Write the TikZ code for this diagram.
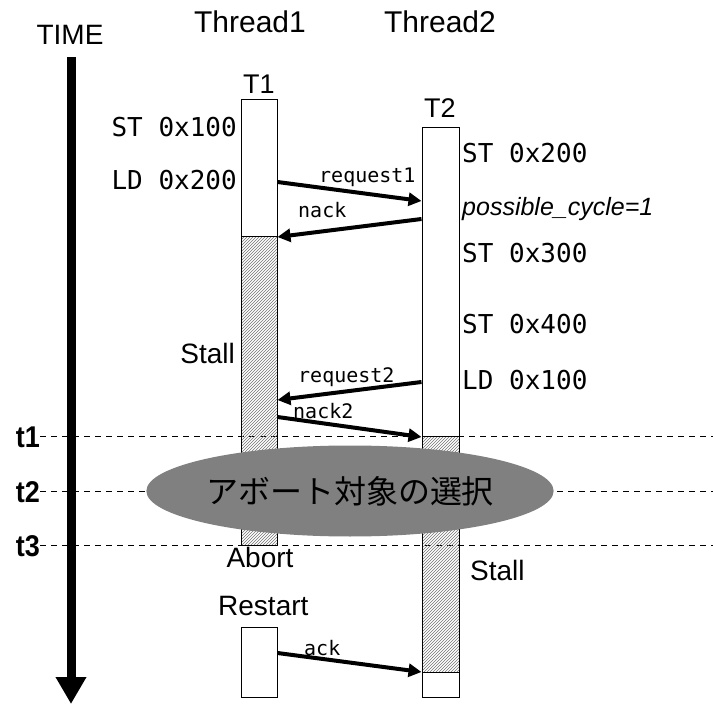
\documentclass[tikz,border=0pt]{standalone}
\usepackage{fontspec}
\setmainfont{Liberation Sans}
\setmonofont{DejaVu Sans Mono}
\newfontfamily\jpfont{Noto Sans CJK JP}
\usetikzlibrary{arrows.meta,patterns,shapes.geometric}
\newcommand{\fs}[1]{\fontsize{#1}{#1}\selectfont}
\tikzstyle{bar}      = [draw,line width=1pt,fill=white,inner sep=0pt,minimum width=36pt]
\tikzstyle{stallbar} = [draw,line width=1pt,inner sep=0pt,minimum width=36pt,pattern=north east lines,pattern color=black!55]
\tikzstyle{msg}      = [-{Triangle[length=13pt,width=13pt]},line width=4pt]
\tikzstyle{instr}    = [font=\ttfamily\fs{26},inner sep=0pt]
\tikzstyle{msglbl}   = [font=\ttfamily\fs{20},inner sep=0pt,anchor=base west]
\tikzstyle{lbl}      = [font=\fs{28},inner sep=0pt]
\tikzstyle{tick}     = [font=\bfseries\fs{30},inner sep=0pt,anchor=base east,xscale=0.9]
\tikzstyle{timeline} = [line width=1pt,dash pattern=on 6pt off 5pt]

\begin{document}
\begin{tikzpicture}[x=1pt,y=-1pt]
\useasboundingbox (0,0) rectangle (713,706);

% time axis
\node[lbl,font=\fs{28},anchor=base] (time) at (70,45) {TIME};
\coordinate (tend) at (71,704);
\draw[line width=9pt,-{Triangle[width=29pt,length=27pt]}] ([yshift=-12pt,xshift=1pt]time.south) -- (tend);

\node[tick] (t1) at (40,447) {t1};
\node[tick] (t2) at (40,502) {t2};
\node[tick] (t3) at (40,556) {t3};
\draw[timeline] (t1.east) -- ++(673,0);
\draw[timeline] (t2.east) -- ++(673,0);
\draw[timeline] (t3.east) -- ++(673,0);

% threads
\node[lbl,font=\fs{30},anchor=base] (th1) at (250,33) {Thread1};
\node[lbl,font=\fs{30},anchor=base] (th2) at (440,33) {Thread2};
\node[lbl,font=\fs{27},anchor=base] (n1) at (259,94) {T1};
\node[lbl,font=\fs{27},anchor=base] (n2) at (440,118) {T2};

\node[bar,minimum height=137pt]      (T1a) at (259,168.5) {};
\node[stallbar,minimum height=308pt] (T1b) at (259,391) {};
\node[bar,minimum height=70pt]       (T1c) at (259,662) {};

\node[bar,minimum width=37pt,minimum height=308pt]      (T2a) at (440.5,282) {};
\node[stallbar,minimum width=37pt,minimum height=236pt] (T2b) at (440.5,554) {};
\node[bar,minimum width=37pt,minimum height=25pt]       (T2c) at (440.5,684.5) {};

% instructions
\node[instr,anchor=base east] (i1) at (237,137) {ST 0x100};
\node[instr,anchor=base east] (i2) at (237,190) {LD 0x200};
\node[instr,anchor=base west] (i3) at (462,163) {ST 0x200};
\node[lbl,font=\itshape\fs{25},anchor=base west] (pc) at (462,215) {possible\_cycle=1};
\node[instr,anchor=base west] (i4) at (462,262) {ST 0x300};
\node[instr,anchor=base west] (i5) at (462,333) {ST 0x400};
\node[instr,anchor=base west] (i6) at (462,389) {LD 0x100};

% messages
\draw[msg] (T1a.east |- 0,182) -- (T2a.west |- 0,201);
\draw[msg] (T2a.west |- 0,219) -- (T1a.east |- 0,237);
\draw[msg] (T2a.west |- 0,382) -- (T1b.east |- 0,400);
\draw[msg] (T1b.east |- 0,417) -- (T2a.west |- 0,437);
\draw[msg] (T1c.east |- 0,653) -- (T2b.west |- 0,672);
\node[msglbl] (m1) at (319,183) {request1};
\node[msglbl] (m2) at (298,218) {nack};
\node[msglbl] (m3) at (298,382) {request2};
\node[msglbl] (m4) at (293,418) {nack2};
\node[msglbl] (m5) at (304,655) {ack};

% states
\node[lbl,anchor=base east] (s1) at (235,363) {Stall};
\node[lbl,anchor=base] (ab) at (260,567) {Abort};
\node[lbl,anchor=base west] (rs) at (218,615) {Restart};
\node[lbl,anchor=base west] (s2) at (470,580) {Stall};

\node[ellipse,fill=gray,inner sep=0pt,minimum width=400pt,minimum height=91pt,
      font=\jpfont\fs{32}] (sel) at (350,491) {アボート対象の選択};
\end{tikzpicture}
\end{document}
